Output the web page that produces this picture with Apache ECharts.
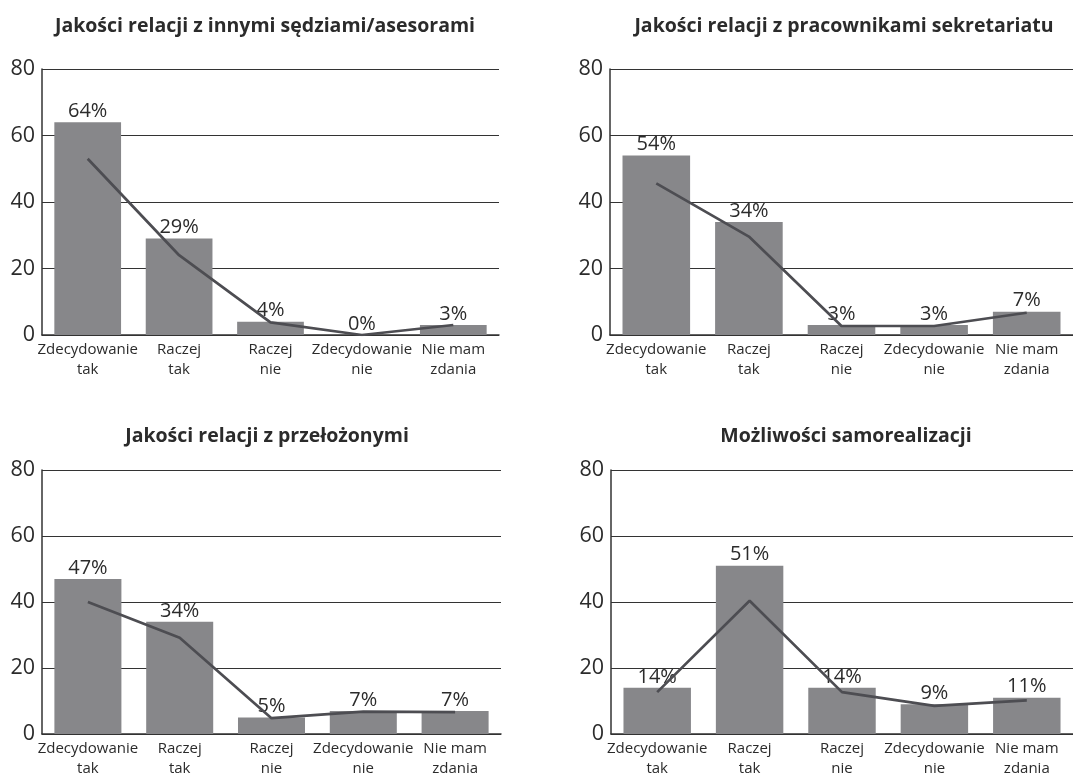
<!DOCTYPE html>
<html>
<head>
<meta charset="utf-8">
<script src="https://cdn.jsdelivr.net/npm/echarts@6/dist/echarts.min.js"></script>
<style>
  html, body { margin: 0; padding: 0; background: #fff; }
  #chart { width: 1073px; height: 779px; }
</style>
</head>
<body>
<div id="chart"></div>
<script>
// Answer categories (two-line labels)
const categories = ['Zdecydowanie\ntak', 'Raczej\ntak', 'Raczej\nnie', 'Zdecydowanie\nnie', 'Nie mam\nzdania'];

// Panel titles
const titles = [
  'Jakości relacji z innymi sędziami/asesorami',
  'Jakości relacji z pracownikami sekretariatu',
  'Jakości relacji z przełożonymi',
  'Możliwości samorealizacji'
];

// Bar values (percent)
const barsRelacjeSedziowie = [64, 29, 4, 0, 3];
const barsRelacjeSekretariat = [54, 34, 3, 3, 7];
const barsRelacjePrzelozeni = [47, 34, 5, 7, 7];
const barsSamorealizacja = [14, 51, 14, 9, 11];

// Line values
const lineRelacjeSedziowie = [53, 24, 3.8, 0, 3];
const lineRelacjeSekretariat = [45.6, 29.6, 2.7, 2.7, 6.7];
const lineRelacjePrzelozeni = [40, 29.2, 4.8, 6.8, 6.6];
const lineSamorealizacja = [12.7, 40.4, 12.7, 8.5, 10.2];

// Value axis
const yMin = 0, yMax = 80, yStep = 20;

const bars = [barsRelacjeSedziowie, barsRelacjeSekretariat, barsRelacjePrzelozeni, barsSamorealizacja];
const lines = [lineRelacjeSedziowie, lineRelacjeSekretariat, lineRelacjePrzelozeni, lineSamorealizacja];

const textColor = '#2b2b2b';
const axisColor = '#333';
const barColor = '#87878a';
const lineColor = '#4d4d52';
const font = '"Open Sans", "DejaVu Sans", sans-serif';

const grids = [
  { left: 42, top: 69, width: 457, height: 266 },
  { left: 610, top: 69, width: 465, height: 266 },
  { left: 42, top: 470, width: 459, height: 267 },
  { left: 611, top: 470, width: 465, height: 267 }
];
const titlePos = [
  { left: 260, top: 11 },
  { left: 839, top: 11 },
  { left: 262, top: 421 },
  { left: 841, top: 421 }
];

const option = {
  backgroundColor: '#fff',
  animation: false,
  textStyle: { fontFamily: font },
  title: titles.map((t, i) => ({
    text: t,
    left: titlePos[i].left,
    top: titlePos[i].top,
    textAlign: 'center',
    textStyle: { fontFamily: font, fontWeight: 'bold', fontSize: 19.5, color: textColor }
  })),
  grid: grids.map(g => Object.assign({ containLabel: false }, g)),
  xAxis: grids.map((g, i) => ({
    type: 'category',
    gridIndex: i,
    data: categories,
    axisTick: { show: false },
    axisLine: { lineStyle: { color: axisColor, width: 1.5 } },
    axisLabel: {
      interval: 0,
      color: textColor,
      fontSize: 15,
      lineHeight: 20,
      margin: 5,
      fontFamily: font
    }
  })),
  yAxis: grids.map((g, i) => ({
    type: 'value',
    gridIndex: i,
    min: yMin,
    max: yMax,
    interval: yStep,
    axisLine: { show: true, lineStyle: { color: axisColor, width: 1.5 } },
    axisTick: { show: false },
    splitLine: { lineStyle: { color: axisColor, width: 1.2 } },
    axisLabel: { color: textColor, fontSize: 21.5, margin: 7, fontFamily: font }
  })),
  series: []
};

bars.forEach((vals, i) => {
  option.series.push({
    type: 'bar',
    xAxisIndex: i,
    yAxisIndex: i,
    data: vals,
    barCategoryGap: '27%',
    itemStyle: { color: barColor },
    label: {
      show: true,
      position: 'top',
      distance: 1,
      formatter: '{c}%',
      color: textColor,
      fontSize: 20,
      fontFamily: font
    },
    z: 2
  });
});
lines.forEach((vals, i) => {
  option.series.push({
    type: 'line',
    xAxisIndex: i,
    yAxisIndex: i,
    data: vals,
    symbol: 'none',
    lineStyle: { color: lineColor, width: 2.7 },
    z: 3
  });
});

const chart = echarts.init(document.getElementById('chart'), null, { renderer: 'canvas' });
chart.setOption(option);
</script>
</body>
</html>
